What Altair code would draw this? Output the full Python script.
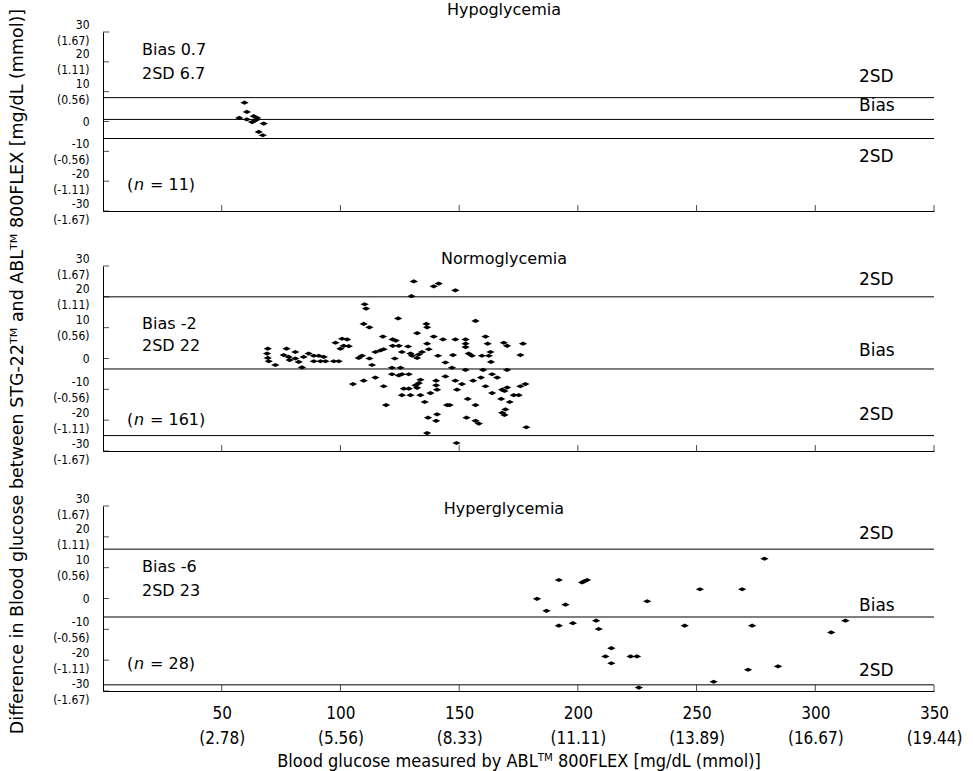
import altair as alt
import pandas as pd

FONT = "DejaVu Sans"
COND = "DejaVu Sans Condensed, DejaVu Sans"

X_TICKS = [50, 100, 150, 200, 250, 300, 350]
X_MMOL = ["(2.78)", "(5.56)", "(8.33)", "(11.11)", "(13.89)", "(16.67)", "(19.44)"]
Y_TICKS = [-30, -20, -10, 0, 10, 20, 30]
Y_MMOL = ["(-1.67)", "(-1.11)", "(-0.56)", "", "(0.56)", "(1.11)", "(1.67)"]

HYPO_X = [59.6, 60.6, 63.5, 57.4, 64.9, 60.6, 62.8, 67.7, 65.6, 67.3, 64.2]
HYPO_Y = [6.3, 3.2, 1.8, 1.2, 1.2, 0.7, -0.2, -0.7, -3.5, -4.6, 0.4]

NORMO_X = [69.4, 69.1, 69.4, 69.8, 72.6, 77.3, 76.1, 78.2, 78.6, 81.0, 81.0, 82.4, 83.8, 84.5,
           86.6, 88.8, 88.8, 90.9, 93.0, 91.6, 93.7, 97.2, 99.3, 97.9, 100.7, 102.8, 100.0, 101.4,
           105.3, 130.9, 139.3, 141.4, 129.9, 110.2, 110.8, 124.3, 109.8, 112.2, 136.2, 136.5,
           132.3, 117.9, 122.0, 123.3, 139.3, 143.2, 103.5, 122.0, 124.6, 128.5, 136.5, 114.7,
           116.8, 118.2, 125.9, 129.5, 130.2, 133.0, 134.4, 137.2, 109.1, 107.7, 112.2, 122.9,
           132.3, 141.1, 144.2, 113.3, 121.7, 125.3, 121.7, 124.6, 125.9, 128.8, 114.7, 109.8,
           118.2, 126.7, 128.8, 131.6, 133.0, 132.3, 133.7, 140.3, 140.3, 137.9, 140.7, 125.9,
           129.5, 133.7, 135.5, 144.9, 119.2, 136.9, 140.7, 140.3, 136.5,
           148.4, 156.9, 148.4, 152.7, 152.7, 152.7, 161.1, 162.0, 168.8, 170.2, 176.9, 147.4,
           154.0, 155.4, 159.6, 163.2, 162.5, 163.4, 175.8, 147.0, 152.7, 160.1, 170.2, 144.2,
           148.4, 151.2, 155.9, 159.2, 163.9, 166.0, 149.1, 161.1, 163.9, 168.1, 170.2, 169.1,
           175.8, 177.9, 153.6, 167.7, 173.0, 175.1, 171.3, 146.0, 156.9, 169.5, 168.1, 169.1,
           153.1, 156.9, 158.3, 178.3, 148.9]
NORMO_Y = [3.2, 1.6, 0.2, -0.9, -2.1, 3.2, 1.1, 0.5, -0.5, 2.1, 0.0, -1.1, -2.9, 0.5,
           1.6, 0.9, -0.9, 0.9, 0.5, -0.9, -0.9, -0.9, -0.9, 5.1, 6.4, 6.2, 3.2, 4.1,
           -8.3, 25.0, 23.4, 24.3, 20.2, 17.6, 16.2, 13.0, 11.2, 10.1, 11.2, 10.1,
           8.2, 7.1, 6.2, 5.8, 7.1, 6.2, 4.0, 4.1, 4.1, 3.9, 4.8, 2.1,
           2.6, 3.0, 2.1, 1.6, 0.9, 1.3, 2.1, 3.0, 0.9, 0.2, 0.0, 0.0,
           0.2, 0.9, -1.3, -2.1, -3.0, -3.0, -5.1, -5.5, -5.1, -5.1, -6.2, -7.2,
           -9.0, -9.8, -9.8, -8.7, -8.0, -9.5, -6.9, -7.2, -8.7, -11.2, -10.1, -11.9,
           -11.9, -11.9, -14.1, -15.1, -15.1, -19.2, -18.1, -20.2, -24.2,
           22.1, 12.2, 6.2, 6.2, 4.8, 3.7, 7.1, 4.8, 5.1, 4.1, 4.8, 1.1,
           1.6, 0.9, 0.9, 2.1, 0.9, -1.1, 1.1, -3.0, -3.7, -3.7, -3.7, -5.8,
           -7.2, -8.3, -7.2, -6.2, -5.1, -6.2, -10.1, -9.0, -11.2, -10.1, -9.4, -10.5,
           -9.0, -8.3, -13.1, -13.1, -11.9, -11.9, -14.1, -15.1, -15.1, -16.5, -17.6, -18.3,
           -19.2, -20.2, -21.1, -22.3, -27.4]

HYPER_X = [182.8, 186.8, 192.0, 194.8, 192.0, 197.9, 201.8, 203.9, 207.7, 208.8, 214.1, 211.6,
           214.1, 222.2, 224.9, 225.7, 229.2, 251.4, 269.2, 278.6, 245.0, 273.4, 306.7, 312.7,
           271.7, 284.3, 257.2, 202.8]
HYPER_Y = [-0.1, -4.0, 6.0, -2.0, -8.8, -8.0, 5.2, 6.0, -7.2, -9.9, -16.1, -18.8,
           -21.0, -18.8, -18.8, -28.9, -0.9, 3.0, 3.0, 12.9, -8.8, -8.8, -11.0, -7.2,
           -23.1, -22.0, -27.0, 5.6]

PANELS = [
    dict(title="Hypoglycemia", x=HYPO_X, y=HYPO_Y, lines=[8.0, 0.7, -5.7],
         bias="Bias 0.7", sd="2SD 6.7", n="11", height=179,
         title_y=-22, ann_y=[18, 42, 153], right_y=[45, 74, 125]),
    dict(title="Normoglycemia", x=NORMO_X, y=NORMO_Y, lines=[20.0, -3.4, -25.0],
         bias="Bias -2", sd="2SD 22", n="161", height=185,
         title_y=-7, ann_y=[58, 80, 154], right_y=[14, 85, 149]),
    dict(title="Hyperglycemia", x=HYPER_X, y=HYPER_Y, lines=[16.0, -6.0, -28.0],
         bias="Bias -6", sd="2SD 23", n="28", height=185,
         title_y=3, ann_y=[61, 85, 158], right_y=[28, 100, 165]),
]

W = 831


def label_expr(ticks, extra):
    expr = "''"
    for t, m in zip(ticks, extra):
        piece = f"['{t}', '{m}']" if m else f"'{t}'"
        expr = f"datum.value == {t} ? {piece} : ({expr})"
    return expr


YTITLE = "Difference in Blood glucose between STG-22ᵀᴹ and ABLᵀᴹ 800FLEX [mg/dL (mmol)]"
XTITLE = "Blood glucose measured by ABLᵀᴹ 800FLEX [mg/dL (mmol)]"

xscale = alt.Scale(domain=[0, 350], nice=False, zero=False)
yscale = alt.Scale(domain=[-30, 30], nice=False, zero=False)


def text_layer(txt, px, py, size=16, align="left", style="normal", font=FONT):
    return alt.Chart(pd.DataFrame({"t": [txt]})).mark_text(
        align=align, baseline="middle", fontSize=size, font=font, fontStyle=style, color="black"
    ).encode(text="t:N", x=alt.value(px), y=alt.value(py))


def panel(p, idx):
    H = p["height"]
    last = idx == 2
    if last:
        xaxis = alt.Axis(values=X_TICKS, labelExpr=label_expr(X_TICKS, X_MMOL), ticks=False,
                         grid=False, labelFlush=False, labelOverlap=False, labelPadding=14,
                         labelFontSize=17, labelFont=COND, labelLineHeight=25,
                         labelBaseline="top", labelColor="black", domainColor="black",
                         title=XTITLE, titleFont=COND, titleFontSize=18,
                         titleFontWeight="normal", titlePadding=6, titleColor="black")
    else:
        xaxis = alt.Axis(values=X_TICKS, labels=False, ticks=False, grid=False,
                         domainColor="black", title=None)
    yaxis_kw = dict(values=Y_TICKS, labelExpr=label_expr(Y_TICKS, Y_MMOL), ticks=False,
                    grid=False, labelFlush=False, labelOverlap=False, labelPadding=14,
                    labelFontSize=12, labelFont=COND, labelLineHeight=16,
                    labelOffset=alt.ExprRef(expr="datum.value == 0 ? 0 : -8"),
                    labelBaseline="middle", labelColor="black", domainColor="black")
    if idx == 1:
        yaxis = alt.Axis(**yaxis_kw, title=YTITLE, titleFont=FONT, titleFontSize=17.5,
                         titleFontWeight="normal", titleColor="black", titlePadding=26,
                         titleY=105)
    else:
        yaxis = alt.Axis(**yaxis_kw, title=None)

    pts = pd.DataFrame({"x": p["x"], "y": p["y"]})
    points = alt.Chart(pts).mark_point(
        shape="M-1,0L0,-0.5L1,0L0,0.5Z", filled=True, color="black", size=70, opacity=1
    ).encode(x=alt.X("x:Q", scale=xscale, axis=xaxis), y=alt.Y("y:Q", scale=yscale, axis=yaxis))

    rules = alt.Chart(pd.DataFrame({"v": p["lines"]})).mark_rule(
        color="black", strokeWidth=1
    ).encode(y=alt.Y("v:Q", scale=yscale, axis=yaxis))

    yt = alt.Chart(pd.DataFrame({"t": Y_TICKS})).mark_tick(
        orient="horizontal", color="black", thickness=1, size=6
    ).encode(y=alt.Y("t:Q", scale=yscale, axis=yaxis), x=alt.value(3))
    xt = alt.Chart(pd.DataFrame({"t": X_TICKS})).mark_tick(
        orient="vertical", color="black", thickness=1, size=6
    ).encode(x=alt.X("t:Q", scale=xscale, axis=xaxis), y=alt.value(H - 3))

    a = p["ann_y"]
    r = p["right_y"]
    layers = [points, rules, yt, xt,
              text_layer(p["title"], 401, p["title_y"], size=16, align="center"),
              text_layer(p["bias"], 39, a[0]),
              text_layer(p["sd"], 39, a[1]),
              text_layer("(", 24, a[2]),
              text_layer("n", 31, a[2], style="italic"),
              text_layer("= " + p["n"] + ")", 47, a[2]),
              text_layer("2SD", 756, r[0], size=17),
              text_layer("Bias", 756, r[1], size=17),
              text_layer("2SD", 756, r[2], size=17)]
    return alt.layer(*layers).properties(width=W, height=H)


top = panel(PANELS[0], 0)
mid = panel(PANELS[1], 1)
bot = panel(PANELS[2], 2)

chart = alt.vconcat(top, mid, bot, spacing=55, bounds="flush").resolve_scale(
    y="independent"
).properties(
    padding={"left": 8, "top": 2, "right": 5, "bottom": 2}, background="white"
).configure_view(stroke=None)

chart.save("out.html", embed_options={"renderer": "svg", "actions": False})
